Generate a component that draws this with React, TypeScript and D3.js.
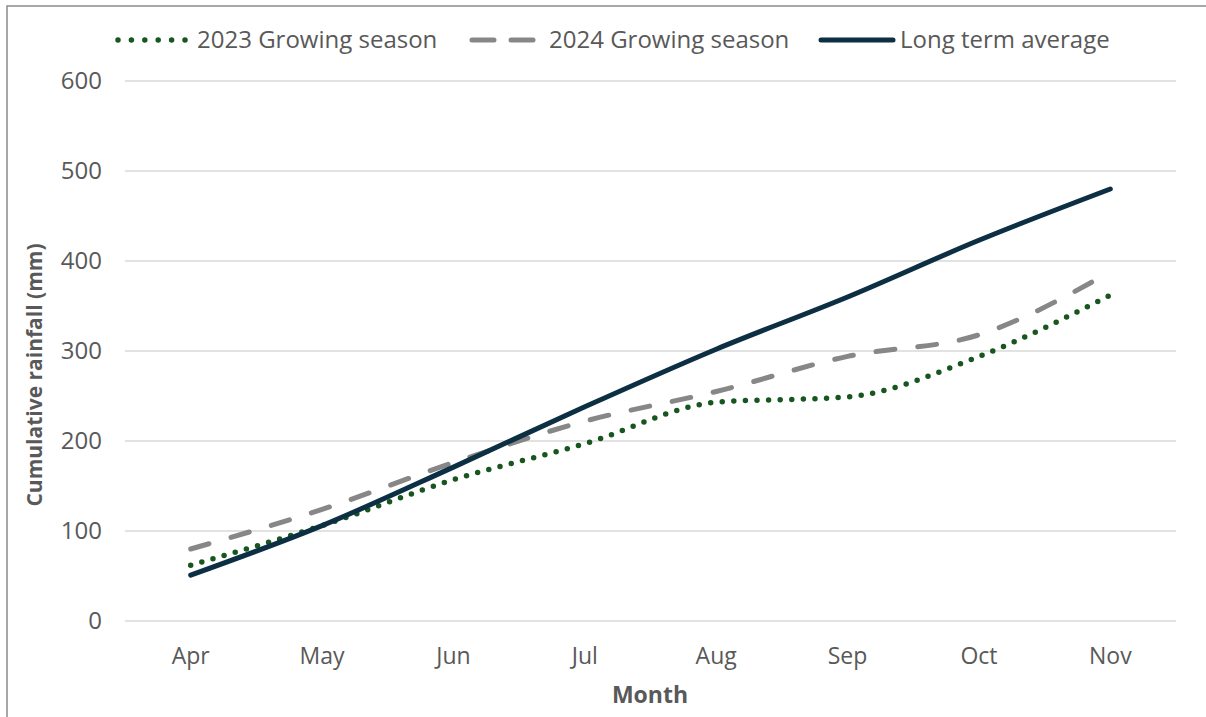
import * as React from 'react'
import * as d3 from 'd3'

// cumulative rainfall (mm) by month
const months = ['Apr', 'May', 'Jun', 'Jul', 'Aug', 'Sep', 'Oct', 'Nov']
const season2023 = [62, 106, 157, 197, 243, 249, 294, 362]
const season2024 = [80, 124, 176, 222, 255, 294, 318, 388]
const longTermAvg = [51, 106, 171, 238, 302, 360, 423, 480]
const yTicks = [0, 100, 200, 300, 400, 500, 600]

const W = 1206
const H = 717
const FONT = "'Open Sans', sans-serif"
const TEXT = '#595959'

const series = [
  { name: '2023 Growing season', values: season2023, color: '#17561f', dash: '0 11.6', width: 5.5 },
  { name: '2024 Growing season', values: season2024, color: '#878787', dash: '19 23', width: 5 },
  { name: 'Long term average', values: longTermAvg, color: '#0c2f43', dash: null, width: 5 },
]

export default function App() {
  const x = d3.scaleBand<string>().domain(months).range([125, 1176])
  const y = d3.scaleLinear().domain([0, 600]).range([621, 81])

  const line = d3
    .line<number>()
    .x((_, i) => (x(months[i]) as number) + x.bandwidth() / 2)
    .y(d => y(d))
    .curve(d3.curveMonotoneX)

  const legendX = [118, 470, 821]

  return (
    <svg width={W} height={H} style={{ position: 'absolute', left: 0, top: 0, background: '#fff' }} fontFamily={FONT}>
      <rect x={7} y={6} width={W} height={H} fill="#fff" stroke="#8c8c8c" strokeWidth={1.5} />

      {/* gridlines */}
      {yTicks.map(t => (
        <line key={t} x1={125} x2={1176} y1={y(t)} y2={y(t)} stroke="#d9d9d9" strokeWidth={1.5} />
      ))}

      {/* y tick labels */}
      {yTicks.map(t => (
        <text key={t} x={102} y={y(t)} dy="0.35em" textAnchor="end" fontSize={24} fill={TEXT}>
          {t}
        </text>
      ))}

      {/* x tick labels */}
      {months.map(m => (
        <text key={m} x={(x(m) as number) + x.bandwidth() / 2} y={656} dy="0.35em" textAnchor="middle" fontSize={23} fill={TEXT}>
          {m}
        </text>
      ))}

      <text x={650} y={695} dy="0.35em" textAnchor="middle" fontSize={23} fontWeight="bold" fill={TEXT}>
        Month
      </text>
      <text
        transform="translate(35,375) rotate(-90)"
        dy="0.35em"
        textAnchor="middle"
        fontSize={21}
        fontWeight="bold"
        fill={TEXT}
      >
        Cumulative rainfall (mm)
      </text>

      {/* series */}
      {series.map(s => (
        <path
          key={s.name}
          d={line(s.values) || ''}
          fill="none"
          stroke={s.color}
          strokeWidth={s.width}
          strokeLinecap="round"
          strokeLinejoin="round"
          strokeDasharray={s.dash || undefined}
        />
      ))}

      {/* legend */}
      {series.map((s, i) => (
        <g key={s.name} transform={`translate(${legendX[i]},40)`}>
          <line
            x1={s.dash === '19 23' ? 2 : 0}
            x2={s.dash === '0 11.6' ? 67 : 72}
            y1={0}
            y2={0}
            stroke={s.color}
            strokeWidth={s.width}
            strokeLinecap="round"
            strokeDasharray={s.dash === '19 23' ? '22 17' : s.dash === '0 11.6' ? '0 13.4' : undefined}
          />
          <text x={i === 0 ? 79 : i === 1 ? 79 : 79} y={0} dy="0.35em" fontSize={24} fill={TEXT}>
            {s.name}
          </text>
        </g>
      ))}
    </svg>
  )
}
